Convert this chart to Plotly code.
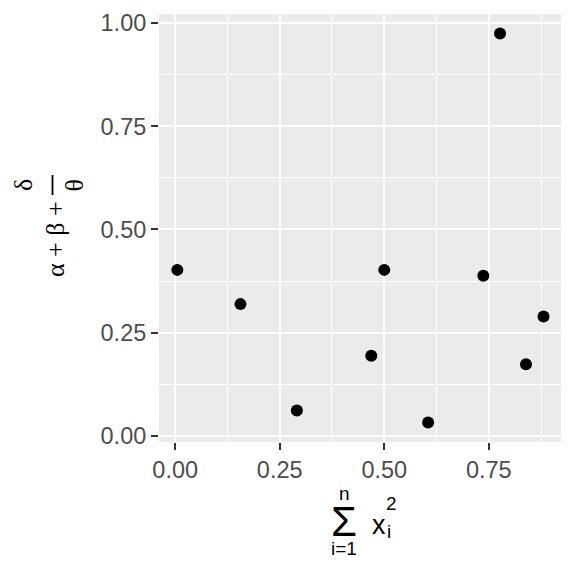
import plotly.graph_objects as go

x_vals = [0.005, 0.156, 0.291, 0.469, 0.500, 0.605, 0.737, 0.777, 0.839, 0.881]
y_vals = [0.402, 0.319, 0.061, 0.194, 0.402, 0.032, 0.388, 0.975, 0.173, 0.289]
tick_vals = [0.0, 0.25, 0.5, 0.75, 1.0]
tick_text = ["0.00", "0.25", "0.50", "0.75", "1.00"]

# page body has an 8px margin; figure is laid out in page coordinates minus 8
OFF = 8
W = H = 568
L, R, T, B = 159 - OFF, 15, 14 - OFF, 134

fig = go.Figure(go.Scatter(x=x_vals, y=y_vals, mode="markers",
                           marker=dict(color="black", size=12, line=dict(width=0))))

axis_common = dict(
    showline=False, zeroline=False, automargin=False,
    gridcolor="white", gridwidth=2.2,
    ticks="outside", ticklen=7, tickwidth=1.5, tickcolor="#333333",
    tickfont=dict(family="Liberation Sans, Arial", size=23.5, color="#4D4D4D"),
    minor=dict(showgrid=True, gridcolor="white", gridwidth=1, dtick=0.125, tick0=0.125, ticks=""),
    tickvals=tick_vals, ticktext=tick_text,
)

fig.update_xaxes(range=[-0.0388, 0.9228], **axis_common)
fig.update_yaxes(range=[-0.0152, 1.0222], **axis_common)

def px(xs):
    return (xs - OFF - L) / (W - L - R)

def py(ys):
    return (H - B - (ys - OFF)) / (H - T - B)

ann = []
serif = "Liberation Serif, Times New Roman, serif"
sans = "Liberation Sans, Arial, sans-serif"

def add(text, sx, sy, size, family, angle=0):
    ann.append(dict(text=text, x=px(sx), y=py(sy), xref="paper", yref="paper",
                    showarrow=False, xanchor="center", yanchor="middle",
                    textangle=angle, font=dict(family=family, size=size, color="black")))

# y title: alpha + beta + delta/theta (rotated)
add("α + β +", 55, 239, 26, serif, -90)
add("δ", 23.5, 185.5, 26, serif, -90)
add("θ", 74, 185.5, 26, serif, -90)

# x title: sum_{i=1}^{n} x_i^2
add("Σ", 344, 521, 42, sans)
add("n", 344, 493, 19, sans)
add("i=1", 343.5, 548.5, 19, sans)
add("x", 379, 525, 27, sans)
add("2", 391, 503.5, 19, sans)
add("i", 388.5, 531, 19, sans)

fig.update_layout(
    width=W, height=H,
    margin=dict(l=L, r=R, t=T, b=B, autoexpand=False),
    plot_bgcolor="#EBEBEB", paper_bgcolor="white",
    showlegend=False,
    annotations=ann,
    shapes=[dict(type="line", xref="paper", yref="paper",
                 x0=px(52.5), x1=px(52.5), y0=py(175), y1=py(195),
                 line=dict(color="black", width=1.8))],
)

fig.write_html("out.html")
